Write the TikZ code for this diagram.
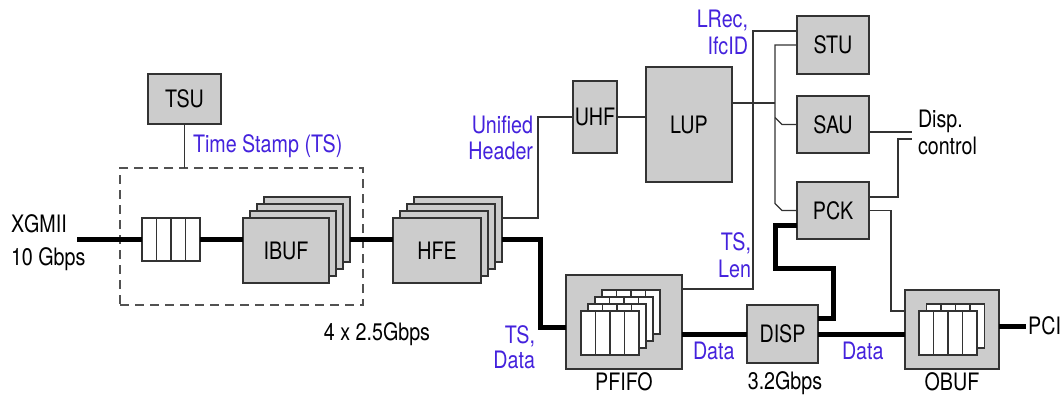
\documentclass[tikz,border=0pt]{standalone}
\usepackage{fontspec}
\setmainfont{TeX Gyre Heros}[FakeStretch=0.82]
\usetikzlibrary{calc}
\definecolor{blockgray}{RGB}{204,204,204}
\definecolor{edgegray}{RGB}{51,51,51}
\definecolor{labelblue}{RGB}{68,34,221}
\tikzset{
  txt/.style={font=\fontsize{24}{27}\selectfont, inner sep=0pt, outer sep=0pt},
  lbl/.style={txt, text=labelblue},
  blk/.style={txt, draw=edgegray, fill=blockgray, line width=1.3pt},
  cell/.style={draw=edgegray, fill=white, line width=1.3pt, inner sep=0pt, outer sep=0pt},
  cellline/.style={draw=edgegray, line width=1.3pt},
  bus/.style={line width=5pt, black},
  sig/.style={line width=1.3pt, edgegray},
  groupbox/.style={draw=edgegray!85, line width=1.3pt, dash pattern=on 9pt off 6pt, inner sep=0pt, outer sep=0pt},
}
% a white buffer with four slots
\newcommand\slotbuf[4]{%
  \node[cell, minimum width=#3, minimum height=#4] (#1) at #2 {};
  \foreach \f in {0.25,0.5,0.75}
    \draw[cellline] ($(#1.north west)!\f!(#1.north east)$) -- ($(#1.south west)!\f!(#1.south east)$);
}
\begin{document}
\begin{tikzpicture}[x=1pt,y=-1pt]
\fill[white] (0,0) rectangle (1062,396);
\useasboundingbox (0,0) rectangle (1062,396);

% input group
\node[groupbox, minimum width=243pt, minimum height=137pt] (tsbox) at (241.5,236.5) {};
\node[blk, minimum width=73pt, minimum height=50pt] (tsu) at (184.5,99) {TSU};
\slotbuf{fifo}{(171,239.5)}{58pt}{43pt}

% stacked input buffers and header extractors
\foreach \k in {3,2,1}{
  \node[blk, minimum width=86pt, minimum height=65pt] (ibuf\k) at ({286+7*\k},{250.5-7*\k}) {};
}
\node[blk, minimum width=86pt, minimum height=65pt] (ibuf0) at (286,250.5) {IBUF};
\foreach \k in {3,2,1}{
  \node[blk, minimum width=88pt, minimum height=65pt] (hfe\k) at ({437+7*\k},{250.5-7*\k}) {};
}
\node[blk, minimum width=88pt, minimum height=65pt] (hfe0) at (437,250.5) {HFE};

% lookup path
\node[blk, minimum width=44pt, minimum height=72pt] (uhf) at (595,117) {UHF};
\node[blk, minimum width=86pt, minimum height=115pt] (lup) at (689,124.5) {LUP};
\node[blk, minimum width=72pt, minimum height=58pt] (stu) at (833,45) {STU};
\node[blk, minimum width=72pt, minimum height=57pt] (sau) at (833,124.5) {SAU};
\node[blk, minimum width=72pt, minimum height=57pt] (pck) at (833,210.5) {PCK};

% packet FIFO
\node[blk, minimum width=116pt, minimum height=94pt] (pfifo) at (624,322) {};
\foreach \k in {3,2,1,0}{
  \slotbuf{pf\k}{({610+7*\k},{333-7*\k})}{58pt}{44pt}
}
% dispatcher
\node[blk, minimum width=71pt, minimum height=58pt] (disp) at (782.5,334) {DISP};
% output buffer
\node[blk, minimum width=94pt, minimum height=79pt] (obuf) at (952,329.5) {};
\slotbuf{ob1}{(955.5,326)}{58pt}{44pt}
\slotbuf{ob0}{(948,333)}{58pt}{44pt}

% data path
\coordinate (xin) at (77,239.5);
\draw[bus] (xin) -- (fifo.west);
\draw[bus] (fifo.east) -- (fifo.east -| ibuf0.west);
\draw[bus] (fifo.east -| ibuf3.east) -- (fifo.east -| hfe0.west);
\draw[bus] (fifo.east -| hfe3.east) -- ++(38,0) |- ($(pfifo.west)+(0,5)$);
\draw[bus] (disp.west -| pfifo.east) -- (disp.west);
\draw[bus] (disp.east) -- (disp.east -| obuf.west);
\draw[bus] ($(obuf.east)+(0,-3.5)$) -- ++(27,0) coordinate (pciend);
\draw[bus] ($(disp.east)+(0,-16)$) -| ($(disp.east)+(15,-66)$) -| ($(pck.west)+(-22,14.5)$) -- ($(pck.west)+(0,14.5)$);

% control signals
\draw[sig] (tsu.south) -- (tsu.south |- tsbox.north);
\draw[sig] (hfe3.east |- hfe0.north) -- ++(36,0) |- (uhf.west);
\draw[sig] (uhf.east) -- (uhf.east -| lup.west);
\draw[sig] ($(pfifo.north east)+(0,14)$) -| ($(stu.north west)+(-44,15)$) -- ($(stu.north west)+(0,15)$);
\draw[sig] ($(lup.east)+(0,-21.5)$) -- ++(43,0);
\draw[sig] (stu.west) -- ++(-22,0) -- ($(pck.west)+(-22,-7)$) -- ($(pck.west)+(-15,0)$) -- (pck.west);
\draw[sig] ($(sau.west)+(-22,-7)$) -- ($(sau.west)+(-15,0)$) -- (sau.west);
\draw[sig] ($(sau.east)+(0,7.5)$) -- ++(43,0) coordinate (dispa);
\draw[sig] ($(pck.east)+(0,-13.5)$) -| ++(29,-58) -- ++(14,0) coordinate (dispb);
\draw[sig] (pck.east) -| ($(obuf.west)+(-14,-18.5)$) -- ($(obuf.west)+(0,-18.5)$);

% labels
\node[lbl, anchor=base west] at (193,152.5) {Time Stamp (TS)};
\node[txt, anchor=base west] at (11,232) {XGMII};
\node[txt, anchor=base west] at (11,265) {10 Gbps};
\node[txt, anchor=base] at (377,340) {4 x 2.5Gbps};
\node[lbl, anchor=base east] at (533,133) {Unified};
\node[lbl, anchor=base east] at (533,159) {Header};
\node[lbl, anchor=base east] at (748,28) {LRec,};
\node[lbl, anchor=base east] at (748,55) {IfcID};
\node[lbl, anchor=base east] at (751,250) {TS,};
\node[lbl, anchor=base east] at (751,277) {Len};
\node[lbl, anchor=base east] at (535,343) {TS,};
\node[lbl, anchor=base east] at (535,368) {Data};
\node[lbl, anchor=base west] at (693,359) {Data};
\node[lbl, anchor=base west] at (842,359) {Data};
\node[txt, anchor=base] at (624,390) {PFIFO};
\node[txt, anchor=base] at (785,389) {3.2Gbps};
\node[txt, anchor=base] at (952,390) {OBUF};
\node[txt, anchor=base west] at (918,127) {Disp.};
\node[txt, anchor=base west] at (918,154) {control};
\node[txt, anchor=base east] at (1061,334) {PCI};
\end{tikzpicture}
\end{document}
